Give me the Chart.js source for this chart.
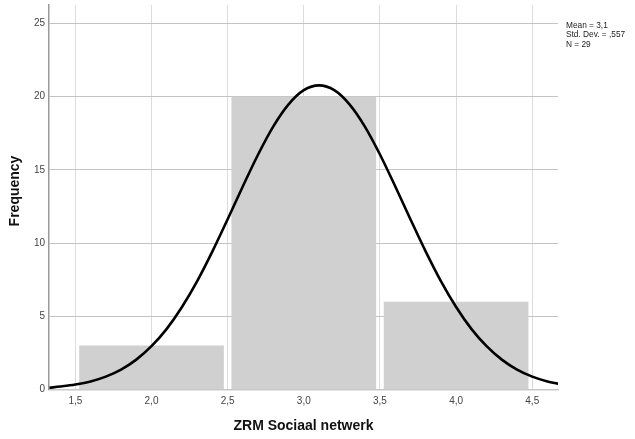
<!DOCTYPE html>
<html>
<head>
<meta charset="utf-8">
<script src="https://cdn.jsdelivr.net/npm/chart.js@4"></script>
<style>
  html, body { margin: 0; padding: 0; background: #fff; }
  #wrap { width: 635px; height: 439px; }
</style>
</head>
<body>
<div id="wrap"><canvas id="histo"></canvas></div>
<script>
// histogram bins (midpoints) and counts
const binMid = [2, 3, 4];
const counts = [3, 20, 6];

// normal curve
const curveX = [1.33, 1.4, 1.5, 1.6, 1.7, 1.8, 1.9, 2.0, 2.1, 2.2, 2.3, 2.4, 2.5, 2.6, 2.7, 2.8, 2.9, 3.0,
                3.1, 3.2, 3.3, 3.4, 3.5, 3.6, 3.7, 3.8, 3.9, 4.0, 4.1, 4.2, 4.3, 4.4, 4.5, 4.6, 4.67];
const curveY = [0.12, 0.2, 0.34, 0.55, 0.88, 1.36, 2.04, 2.96, 4.14, 5.63, 7.4, 9.43, 11.63, 13.88, 16.05, 17.97, 19.47, 20.44,
                20.77, 20.44, 19.47, 17.97, 16.05, 13.88, 11.63, 9.43, 7.4, 5.63, 4.14, 2.96, 2.04, 1.36, 0.88, 0.55, 0.4];

const xTicks = [1.5, 2.0, 2.5, 3.0, 3.5, 4.0, 4.5];
const yTicks = [0, 5, 10, 15, 20, 25];
const stats = ['Mean = 3,1', 'Std. Dev. = ,557', 'N = 29'];

// stats box top right + y title
const extras = {
  id: 'extras',
  afterDraw(chart) {
    const ctx = chart.ctx;
    ctx.save();
    ctx.fillStyle = '#222';
    ctx.font = '8.3px "Liberation Sans", Arial, sans-serif';
    ctx.textBaseline = 'middle';
    stats.forEach((s, i) => ctx.fillText(s, 566, 25.5 + i * 9.5));

    ctx.fillStyle = '#111';
    ctx.font = 'bold 14px "Liberation Sans", Arial, sans-serif';
    ctx.textAlign = 'center';
    ctx.translate(15, 191);
    ctx.rotate(-Math.PI / 2);
    ctx.fillText('Frequency', 0, 0);
    ctx.restore();
  }
};

let ctx = document.getElementById('histo');
let grafica = new Chart(ctx, {
  data: {
    datasets: [{
      type: 'line',
      data: curveX.map((x, i) => ({ x: x, y: curveY[i] })),
      borderColor: '#000',
      borderWidth: 2.6,
      pointRadius: 0,
      cubicInterpolationMode: 'monotone',
      fill: false
    }, {
      type: 'bar',
      data: binMid.map((x, i) => ({ x: x, y: counts[i] })),
      backgroundColor: '#d0d0d0',
      borderWidth: 0,
      categoryPercentage: 1.9,
      barPercentage: 1
    }]
  },
  options: {
    animation: false,
    responsive: true,
    maintainAspectRatio: false,
    layout: { padding: { top: 5, right: 77, left: 0, bottom: 0 } },
    plugins: {
      legend: { display: false },
      tooltip: { enabled: false }
    },
    scales: {
      x: {
        type: 'linear',
        offset: false,
        min: 1.327,
        max: 4.669,
        afterBuildTicks: (s) => { s.ticks = xTicks.map(v => ({ value: v })); },
        afterFit: (s) => { s.height = 49.5; },
        grid: { color: '#dcdcdc', drawTicks: false, offset: false },
        border: { color: '#c8c8c8', width: 1.5 },
        ticks: {
          padding: 6,
          color: '#444',
          font: { family: '"Liberation Sans", Arial, sans-serif', size: 10 },
          callback: (v) => Number(v).toFixed(1).replace('.', ',')
        },
        title: {
          display: true,
          text: 'ZRM Sociaal netwerk',
          color: '#111',
          padding: { top: 0, bottom: 4 },
          font: { family: '"Liberation Sans", Arial, sans-serif', size: 14, weight: 'bold' }
        }
      },
      y: {
        min: 0,
        max: 26.26,
        afterBuildTicks: (s) => { s.ticks = yTicks.map(v => ({ value: v })); },
        afterFit: (s) => { s.width = 49; s.paddingTop = 0; s.paddingBottom = 0; },
        grid: { color: '#c4c4c4', drawTicks: false },
        border: { color: '#999', width: 1.5 },
        ticks: {
          padding: 4,
          color: '#444',
          font: { family: '"Liberation Sans", Arial, sans-serif', size: 10 }
        }
      }
    }
  },
  plugins: [extras]
});
</script>
</body>
</html>
